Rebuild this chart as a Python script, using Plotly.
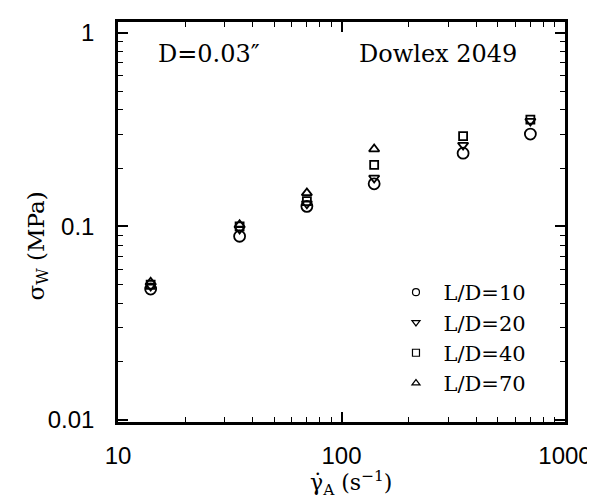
import plotly.graph_objects as go

# Data
shear_rate = [14, 35, 70, 140, 350, 700]
ld10 = [0.0475, 0.089, 0.127, 0.166, 0.239, 0.300]
ld20 = [0.0493, 0.097, 0.131, 0.178, 0.263, 0.350]
ld40_x = [14, 35, 70, 140, 350, 700]
ld40 = [0.0500, 0.100, 0.135, 0.208, 0.293, 0.356]
ld70_x = [14, 35, 70, 140]
ld70 = [0.0515, 0.102, 0.149, 0.251]

x_major = [10, 100, 1000]
y_major = [0.01, 0.1, 1]
multipliers = [2, 3, 4, 5, 6, 7, 8, 9]
x_minor = [d * m for d in [10, 100] for m in multipliers]
y_minor = [d * m for d in [0.01, 0.1] for m in multipliers]

series = [
    ("L/D=10", shear_rate, ld10, "circle-open", 11),
    ("L/D=20", shear_rate, ld20, "triangle-down-open", 9),
    ("L/D=40", ld40_x, ld40, "square-open", 8),
    ("L/D=70", ld70_x, ld70, "triangle-up-open", 9),
]

serif = "DejaVu Serif"
sans = "Liberation Sans"

fig = go.Figure()
for name, xs, ys, sym, sz in series:
    fig.add_trace(go.Scatter(
        x=xs, y=ys, mode="markers", name=name, showlegend=False,
        marker=dict(symbol=sym, size=sz, color="black", line=dict(width=1.8, color="black")),
    ))
for name, xs, ys, sym, sz in series:
    fig.add_trace(go.Scatter(
        x=[None], y=[None], mode="markers", name=name, showlegend=True,
        marker=dict(symbol=sym, size=7, color="black", line=dict(width=1.2, color="black")),
    ))

axis_common = dict(
    type="log", showgrid=False, zeroline=False,
    showline=True, linecolor="black", linewidth=2.5, mirror="allticks",
    ticks="inside", ticklen=10, tickwidth=1.5, tickcolor="black",
    tickfont=dict(family=sans, size=24, color="black"),
)

fig.update_xaxes(
    **axis_common, range=[1, 3],
    tickvals=x_major, ticktext=[str(v) for v in x_major],
    minor=dict(tickvals=x_minor, ticks="inside", ticklen=5, tickwidth=1.2, tickcolor="black", showgrid=False),
    ticklabelstandoff=10,
)
fig.update_yaxes(
    **axis_common, range=[-2.01, 0.056],
    tickvals=y_major, ticktext=["0.01", "0.1", "1"],
    minor=dict(tickvals=y_minor, ticks="inside", ticklen=5, tickwidth=1.2, tickcolor="black", showgrid=False),
    ticklabelstandoff=16,
)

fig.add_annotation(x=0.522, y=-0.153, xref="paper", yref="paper", xanchor="center", yanchor="middle",
                   text="γ̇<sub>A</sub> (s<sup>−1</sup>)", showarrow=False,
                   font=dict(family=serif, size=22, color="black"))
fig.add_annotation(x=-0.18, y=0.44, xref="paper", yref="paper", xanchor="center", yanchor="middle",
                   textangle=-90, text="σ<sub>W</sub> (MPa)", showarrow=False,
                   font=dict(family=serif, size=23, color="black"))
fig.add_annotation(x=0.084, y=0.921, xref="paper", yref="paper", xanchor="left", yanchor="middle",
                   text="D=0.03″", showarrow=False, font=dict(family=serif, size=24, color="black"))
fig.add_annotation(x=0.896, y=0.921, xref="paper", yref="paper", xanchor="right", yanchor="middle",
                   text="Dowlex 2049", showarrow=False, font=dict(family=serif, size=24, color="black"))

fig.update_layout(
    width=595, height=499,
    margin=dict(l=110, r=31, t=11, b=85),
    paper_bgcolor="white", plot_bgcolor="white",
    showlegend=True,
    legend=dict(x=0.925, y=0.045, xanchor="right", yanchor="bottom", bgcolor="rgba(0,0,0,0)",
                font=dict(family=serif, size=21, color="black"), itemwidth=45, tracegroupgap=0),
)

fig.write_html("out.html")
